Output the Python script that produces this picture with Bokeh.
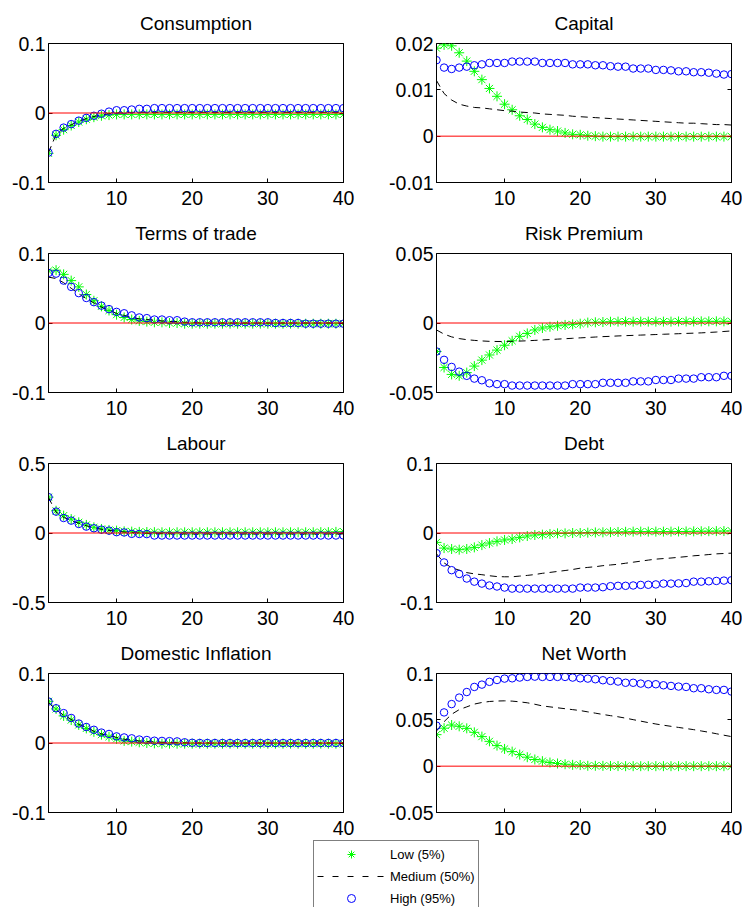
from bokeh.plotting import figure
from bokeh.layouts import column, row
from bokeh.models import (Range1d, FixedTicker, LinearAxis, Legend, LegendItem, Span)
from bokeh.embed import file_html
from bokeh.resources import INLINE

# Impulse-response horizon
periods = list(range(1, 41))
x_ticks = [10, 20, 30, 40]

# ---- Consumption ----
cons_low = [-0.058, -0.032, -0.024, -0.018, -0.013, -0.009, -0.006, -0.004, -0.003, -0.002,
            -0.002, -0.002, -0.002, -0.002, -0.002, -0.002, -0.002, -0.002, -0.002, -0.002,
            -0.002, -0.002, -0.002, -0.002, -0.002, -0.002, -0.002, -0.002, -0.002, -0.002,
            -0.002, -0.002, -0.002, -0.002, -0.002, -0.002, -0.002, -0.002, -0.002, -0.002]
cons_med = [-0.057, -0.031, -0.022, -0.017, -0.012, -0.008, -0.005, -0.003, -0.001, 0.000,
            0.000, 0.001, 0.001, 0.001, 0.001, 0.001, 0.001, 0.001, 0.001, 0.001,
            0.001, 0.001, 0.001, 0.001, 0.001, 0.001, 0.001, 0.001, 0.001, 0.001,
            0.001, 0.001, 0.001, 0.001, 0.001, 0.001, 0.001, 0.001, 0.001, 0.001]
cons_high = [-0.057, -0.030, -0.021, -0.016, -0.011, -0.007, -0.004, -0.001, 0.002, 0.004,
             0.004, 0.005, 0.006, 0.006, 0.007, 0.007, 0.007, 0.007, 0.007, 0.007,
             0.007, 0.007, 0.007, 0.007, 0.007, 0.007, 0.007, 0.007, 0.007, 0.007,
             0.007, 0.007, 0.007, 0.007, 0.007, 0.007, 0.007, 0.007, 0.007, 0.007]
cons_ticks = [-0.1, 0, 0.1]
cons_tick_labels = ["-0.1", "0", "0.1"]

# ---- Capital ----
cap_low = [0.0190, 0.0197, 0.0195, 0.0180, 0.0162, 0.0140, 0.0122, 0.0103, 0.0086, 0.0069,
           0.0057, 0.0044, 0.0036, 0.0026, 0.0019, 0.0014, 0.0011, 0.0007, 0.0004, 0.0003,
           0.0001, 0.0000, -0.0001, -0.0001, -0.0001, -0.0001, -0.0001, -0.0001, -0.0001, -0.0001,
           -0.0001, -0.0001, -0.0001, -0.0001, -0.0001, -0.0001, -0.0001, -0.0001, -0.0001, -0.0001]
cap_med = [0.0120, 0.0092, 0.0078, 0.0069, 0.0065, 0.0062, 0.0061, 0.0059, 0.0057, 0.0055,
           0.0054, 0.0052, 0.0051, 0.0050, 0.0048, 0.0047, 0.0046, 0.0045, 0.0043, 0.0042,
           0.0041, 0.0040, 0.0039, 0.0038, 0.0037, 0.0036, 0.0035, 0.0034, 0.0033, 0.0032,
           0.0031, 0.0030, 0.0029, 0.0028, 0.0028, 0.0027, 0.0026, 0.0025, 0.0025, 0.0024]
cap_high = [0.0164, 0.0148, 0.0145, 0.0148, 0.0150, 0.0153, 0.0155, 0.0158, 0.0158, 0.0158,
            0.0161, 0.0161, 0.0161, 0.0161, 0.0158, 0.0158, 0.0158, 0.0158, 0.0155, 0.0155,
            0.0155, 0.0153, 0.0153, 0.0151, 0.0150, 0.0150, 0.0146, 0.0146, 0.0146, 0.0143,
            0.0143, 0.0142, 0.0140, 0.0140, 0.0138, 0.0138, 0.0137, 0.0135, 0.0133, 0.0134]
cap_ticks = [-0.01, 0, 0.01, 0.02]
cap_tick_labels = ["-0.01", "0", "0.01", "0.02"]

# ---- Terms of trade ----
tot_low = [0.075, 0.076, 0.070, 0.061, 0.052, 0.041, 0.032, 0.024, 0.018, 0.012,
           0.008, 0.005, 0.003, 0.002, 0.001, 0.001, 0.000, 0.000, -0.001, -0.001,
           -0.001, -0.001, -0.001, -0.001, -0.001, -0.001, -0.001, -0.001, -0.001, -0.001,
           -0.001, -0.001, -0.001, -0.001, -0.001, -0.001, -0.001, -0.001, -0.001, -0.001]
tot_med = [0.066, 0.064, 0.058, 0.050, 0.042, 0.035, 0.029, 0.023, 0.018, 0.014,
           0.011, 0.008, 0.006, 0.005, 0.004, 0.003, 0.002, 0.002, 0.001, 0.001,
           0.000, 0.000, 0.000, 0.000, 0.000, 0.000, 0.000, 0.000, 0.000, 0.000,
           0.000, 0.000, 0.000, 0.000, 0.000, 0.000, 0.000, 0.000, 0.000, 0.000]
tot_high = [0.072, 0.071, 0.061, 0.052, 0.043, 0.036, 0.030, 0.025, 0.020, 0.016,
            0.014, 0.011, 0.008, 0.007, 0.005, 0.005, 0.004, 0.004, 0.002, 0.001,
            0.001, 0.001, 0.001, 0.001, 0.001, 0.001, 0.001, 0.001, 0.001, 0.001,
            0.000, 0.000, 0.000, 0.000, -0.001, -0.001, -0.001, -0.001, -0.001, -0.001]
tot_ticks = [-0.1, 0, 0.1]
tot_tick_labels = ["-0.1", "0", "0.1"]

# ---- Risk Premium ----
rp_low = [-0.0205, -0.0320, -0.0370, -0.0380, -0.0357, -0.0310, -0.0267, -0.0230, -0.0195, -0.0160,
          -0.0128, -0.0096, -0.0075, -0.0050, -0.0036, -0.0027, -0.0020, -0.0014, -0.0010, -0.0005,
          0.0003, 0.0005, 0.0007, 0.0009, 0.0010, 0.0010, 0.0010, 0.0010, 0.0010, 0.0010,
          0.0010, 0.0010, 0.0011, 0.0011, 0.0011, 0.0012, 0.0012, 0.0012, 0.0012, 0.0012]
rp_med = [-0.0050, -0.0080, -0.0100, -0.0112, -0.0120, -0.0125, -0.0129, -0.0132, -0.0133, -0.0133,
          -0.0132, -0.0130, -0.0128, -0.0125, -0.0122, -0.0119, -0.0116, -0.0113, -0.0110, -0.0107,
          -0.0104, -0.0101, -0.0098, -0.0096, -0.0093, -0.0091, -0.0089, -0.0087, -0.0085, -0.0083,
          -0.0081, -0.0079, -0.0077, -0.0075, -0.0073, -0.0071, -0.0068, -0.0065, -0.0061, -0.0057]
rp_high = [-0.0205, -0.0265, -0.0316, -0.0350, -0.0380, -0.0400, -0.0412, -0.0434, -0.0440, -0.0440,
           -0.0450, -0.0450, -0.0450, -0.0450, -0.0450, -0.0450, -0.0450, -0.0450, -0.0440, -0.0440,
           -0.0440, -0.0440, -0.0430, -0.0430, -0.0430, -0.0430, -0.0420, -0.0420, -0.0420, -0.0410,
           -0.0410, -0.0410, -0.0400, -0.0400, -0.0400, -0.0390, -0.0390, -0.0390, -0.0380, -0.0380]
rp_ticks = [-0.05, 0, 0.05]
rp_tick_labels = ["-0.05", "0", "0.05"]

# ---- Labour ----
lab_low = [0.258, 0.160, 0.125, 0.100, 0.077, 0.058, 0.041, 0.029, 0.022, 0.017,
           0.012, 0.010, 0.008, 0.007, 0.006, 0.005, 0.005, 0.005, 0.005, 0.005,
           0.005, 0.005, 0.005, 0.005, 0.005, 0.005, 0.005, 0.005, 0.005, 0.005,
           0.005, 0.005, 0.005, 0.005, 0.005, 0.005, 0.006, 0.006, 0.008, 0.010]
lab_med = [0.255, 0.150, 0.112, 0.090, 0.070, 0.052, 0.038, 0.027, 0.019, 0.012,
           0.007, 0.003, 0.000, -0.002, -0.004, -0.005, -0.006, -0.007, -0.007, -0.007,
           -0.007, -0.007, -0.007, -0.007, -0.007, -0.007, -0.007, -0.007, -0.007, -0.007,
           -0.007, -0.007, -0.007, -0.007, -0.007, -0.007, -0.007, -0.007, -0.007, -0.007]
lab_high = [0.258, 0.154, 0.108, 0.089, 0.065, 0.046, 0.034, 0.024, 0.017, 0.006,
            0.004, -0.006, -0.007, -0.008, -0.018, -0.018, -0.018, -0.018, -0.018, -0.018,
            -0.018, -0.018, -0.018, -0.018, -0.018, -0.018, -0.018, -0.018, -0.018, -0.018,
            -0.018, -0.018, -0.018, -0.018, -0.018, -0.018, -0.018, -0.018, -0.018, -0.018]
lab_ticks = [-0.5, 0, 0.5]
lab_tick_labels = ["-0.5", "0", "0.5"]

# ---- Debt ----
debt_low = [-0.0135, -0.0217, -0.0230, -0.0240, -0.0230, -0.0207, -0.0174, -0.0145, -0.0120, -0.0100,
            -0.0087, -0.0063, -0.0043, -0.0029, -0.0024, -0.0014, -0.0005, -0.0005, 0.0000, 0.0000,
            0.0005, 0.0008, 0.0010, 0.0012, 0.0015, 0.0017, 0.0020, 0.0020, 0.0020, 0.0020,
            0.0020, 0.0020, 0.0022, 0.0022, 0.0024, 0.0025, 0.0026, 0.0027, 0.0028, 0.0030]
debt_med = [-0.0300, -0.0430, -0.0500, -0.0535, -0.0570, -0.0588, -0.0600, -0.0615, -0.0627, -0.0630,
            -0.0630, -0.0620, -0.0610, -0.0598, -0.0580, -0.0567, -0.0553, -0.0540, -0.0525, -0.0506,
            -0.0495, -0.0485, -0.0470, -0.0460, -0.0450, -0.0435, -0.0420, -0.0405, -0.0390, -0.0376,
            -0.0368, -0.0360, -0.0350, -0.0340, -0.0328, -0.0320, -0.0310, -0.0300, -0.0295, -0.0290]
debt_high = [-0.0290, -0.0424, -0.0535, -0.0590, -0.0655, -0.0700, -0.0728, -0.0755, -0.0770, -0.0785,
             -0.0800, -0.0800, -0.0800, -0.0800, -0.0800, -0.0800, -0.0800, -0.0800, -0.0800, -0.0785,
             -0.0785, -0.0785, -0.0780, -0.0765, -0.0760, -0.0760, -0.0755, -0.0747, -0.0745, -0.0740,
             -0.0728, -0.0728, -0.0725, -0.0720, -0.0700, -0.0700, -0.0695, -0.0690, -0.0685, -0.0680]
debt_ticks = [-0.1, 0, 0.1]
debt_tick_labels = ["-0.1", "0", "0.1"]

# ---- Domestic Inflation ----
inf_low = [0.060, 0.049, 0.039, 0.033, 0.026, 0.021, 0.016, 0.012, 0.009, 0.006,
           0.003, 0.002, 0.001, 0.000, -0.0005, -0.001, -0.001, -0.001, -0.001, -0.001,
           -0.001, -0.001, -0.001, -0.001, -0.001, -0.001, -0.001, -0.001, -0.001, -0.001,
           -0.001, -0.001, -0.001, -0.001, -0.001, -0.001, -0.001, -0.001, -0.001, -0.001]
inf_med = [0.058, 0.048, 0.040, 0.034, 0.027, 0.022, 0.017, 0.013, 0.011, 0.008,
           0.0055, 0.004, 0.003, 0.002, 0.0015, 0.001, 0.0008, 0.0005, 0.0003, 0.000,
           0.000, 0.000, 0.000, 0.000, 0.000, 0.000, 0.000, 0.000, 0.000, 0.000,
           0.000, 0.000, 0.000, 0.000, 0.000, 0.000, 0.000, 0.000, 0.000, 0.000]
inf_high = [0.0597, 0.050, 0.043, 0.036, 0.028, 0.023, 0.019, 0.015, 0.013, 0.0095,
            0.008, 0.0067, 0.005, 0.0043, 0.0033, 0.003, 0.0027, 0.0023, 0.001, 0.0003,
            0.000, 0.000, 0.000, 0.000, 0.000, 0.000, 0.000, 0.000, 0.000, 0.000,
            0.000, 0.000, 0.000, 0.000, 0.000, 0.000, 0.000, 0.000, 0.000, 0.000]
inf_ticks = [-0.1, 0, 0.1]
inf_tick_labels = ["-0.1", "0", "0.1"]

# ---- Net Worth ----
nw_low = [0.0340, 0.0410, 0.0444, 0.0430, 0.0408, 0.0365, 0.0319, 0.0268, 0.0222, 0.0186,
          0.0157, 0.0125, 0.0097, 0.0072, 0.0054, 0.0039, 0.0029, 0.0021, 0.0014, 0.0012,
          0.0004, 0.0004, 0.0003, 0.0002, 0.0001, 0.0000, 0.0000, 0.0000, 0.0000, 0.0000,
          0.0000, 0.0000, 0.0000, 0.0000, 0.0000, 0.0000, 0.0000, 0.0000, 0.0000, 0.0000]
nw_med = [0.0380, 0.0480, 0.0560, 0.0610, 0.0640, 0.0670, 0.0687, 0.0698, 0.0703, 0.0705,
          0.0702, 0.0694, 0.0684, 0.0668, 0.0650, 0.0640, 0.0630, 0.0620, 0.0610, 0.0600,
          0.0586, 0.0572, 0.0558, 0.0545, 0.0533, 0.0518, 0.0502, 0.0486, 0.0470, 0.0455,
          0.0442, 0.0430, 0.0418, 0.0406, 0.0394, 0.0380, 0.0366, 0.0350, 0.0334, 0.0319]
nw_high = [0.0437, 0.0580, 0.0670, 0.0740, 0.0800, 0.0855, 0.0880, 0.0910, 0.0930, 0.0945,
           0.0948, 0.0956, 0.0963, 0.0966, 0.0963, 0.0963, 0.0963, 0.0963, 0.0956, 0.0948,
           0.0945, 0.0938, 0.0927, 0.0920, 0.0913, 0.0900, 0.0900, 0.0891, 0.0884, 0.0884,
           0.0873, 0.0866, 0.0859, 0.0855, 0.0841, 0.0841, 0.0830, 0.0823, 0.0823, 0.0805]
nw_ticks = [-0.05, 0, 0.05, 0.1]
nw_tick_labels = ["-0.05", "0", "0.05", "0.1"]

FONT = "Liberation Sans"
LOW_COLOR = "#00ff00"
HIGH_COLOR = "#0000ff"


def style_axis(ax, font_size="19.5px"):
    ax.major_tick_in = 4
    ax.major_tick_out = 0
    ax.minor_tick_line_color = None
    ax.axis_line_color = "black"
    ax.major_tick_line_color = "black"
    ax.major_label_text_font = FONT
    ax.major_label_text_font_size = font_size
    ax.major_label_text_color = "black"


def make_panel(title, low, med, high, yticks, ylabels, side):
    if side == "left":
        bl, br = 48, 28
    else:
        bl, br = 65, 11
    p = figure(width=371, height=210, x_range=Range1d(1, 40),
               y_range=Range1d(yticks[0], yticks[-1]),
               output_backend="svg", toolbar_location=None,
               min_border_left=bl, min_border_right=br,
               min_border_top=43, min_border_bottom=28,
               background_fill_color="white", border_fill_color="white",
               outline_line_color="black", outline_line_width=1)
    p.grid.visible = False

    p.title.text = title
    p.title.align = "center"
    p.title.text_font = FONT
    p.title.text_font_size = "19px"
    p.title.text_font_style = "normal"
    p.title.text_color = "black"
    p.title.standoff = 20

    p.xaxis.ticker = FixedTicker(ticks=x_ticks)
    p.yaxis.ticker = FixedTicker(ticks=yticks)
    p.yaxis.major_label_overrides = dict(zip(yticks, ylabels))
    style_axis(p.xaxis[0])
    style_axis(p.yaxis[0])
    p.xaxis.major_label_standoff = 8
    p.yaxis.major_label_standoff = 3

    # mirrored inward ticks on the right edge of the box
    ry = LinearAxis(ticker=FixedTicker(ticks=yticks),
                    major_label_overrides={t: "" for t in yticks})
    style_axis(ry)
    ry.major_label_standoff = 0
    p.add_layout(ry, "right")

    p.add_layout(Span(location=0, dimension="width", line_color="red", line_width=1))
    p.scatter(periods, low, marker="asterisk", size=10, line_color=LOW_COLOR, line_width=1)
    p.line(periods, med, line_color="black", line_width=1, line_dash="7 5")
    p.scatter(periods, high, marker="circle", size=7.5, fill_color=None,
              line_color=HIGH_COLOR, line_width=1)
    return p


panels = [
    ("Consumption", cons_low, cons_med, cons_high, cons_ticks, cons_tick_labels),
    ("Capital", cap_low, cap_med, cap_high, cap_ticks, cap_tick_labels),
    ("Terms of trade", tot_low, tot_med, tot_high, tot_ticks, tot_tick_labels),
    ("Risk Premium", rp_low, rp_med, rp_high, rp_ticks, rp_tick_labels),
    ("Labour", lab_low, lab_med, lab_high, lab_ticks, lab_tick_labels),
    ("Debt", debt_low, debt_med, debt_high, debt_ticks, debt_tick_labels),
    ("Domestic Inflation", inf_low, inf_med, inf_high, inf_ticks, inf_tick_labels),
    ("Net Worth", nw_low, nw_med, nw_high, nw_ticks, nw_tick_labels),
]

figs = []
for i, (t, lo, me, hi, tk, tl) in enumerate(panels):
    figs.append(make_panel(t, lo, me, hi, tk, tl, "left" if i % 2 == 0 else "right"))

rows = [row(figs[i], figs[i + 1]) for i in range(0, 8, 2)]

# Shared legend strip under the grid; its renderers carry the consumption
# series but stay hidden, so only their legend glyphs are shown.
leg = figure(width=742, height=67, output_backend="svg", toolbar_location=None,
             x_axis_location=None, y_axis_location=None,
             min_border_left=313, min_border_right=0, min_border_top=0, min_border_bottom=0,
             outline_line_color=None, background_fill_color="white", border_fill_color="white")
leg.grid.visible = False
r_low = leg.scatter(periods, cons_low, marker="asterisk", size=10, line_color=LOW_COLOR,
                    visible=False)
r_med = leg.line(periods, cons_med, line_color="black", line_width=1, line_dash="6 9",
                 visible=False)
r_high = leg.scatter(periods, cons_high, marker="circle", size=7, fill_color=None,
                     line_color=HIGH_COLOR, visible=False)
legend = Legend(items=[LegendItem(label="Low (5%)", renderers=[r_low]),
                       LegendItem(label="Medium (50%)", renderers=[r_med]),
                       LegendItem(label="High (95%)", renderers=[r_high])],
                location="top_left", margin=0, padding=3, spacing=2,
                glyph_width=68, glyph_height=20, label_height=20, label_standoff=5,
                label_text_font=FONT, label_text_font_size="13px", label_text_color="black",
                border_line_color="black", border_line_width=1,
                background_fill_color="white", background_fill_alpha=1)
leg.add_layout(legend)

layout = column(*rows, leg)

open("out.html", "w").write(file_html(layout, INLINE))
